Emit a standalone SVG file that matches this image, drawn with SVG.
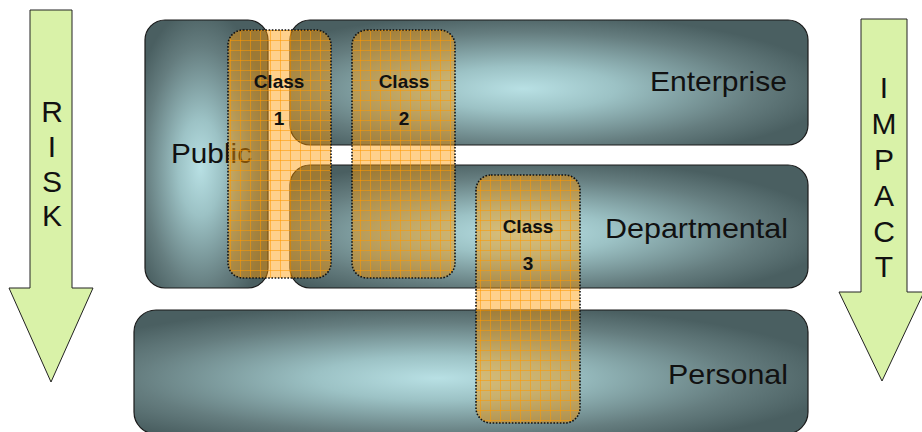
<svg xmlns="http://www.w3.org/2000/svg" width="922" height="432" viewBox="0 0 922 432">
<defs>
<radialGradient id="slate" cx="0.45" cy="0.55" r="0.6">
<stop offset="0" stop-color="#b8e0e4"/>
<stop offset="0.3" stop-color="#9cc2c5"/>
<stop offset="0.75" stop-color="#657d7f"/>
<stop offset="1" stop-color="#4a5f61"/>
</radialGradient>
<pattern id="grid" patternUnits="userSpaceOnUse" x="0" y="0" width="10" height="10">
<rect width="10" height="10" fill="#ff9a00" fill-opacity="0.45"/>
<path d="M0.5 0V10M0 0.5H10" stroke="#ff9900" stroke-width="1" stroke-opacity="0.55"/>
</pattern>
</defs>
<style>
.box{fill:url(#slate);stroke:#1a1a1a;stroke-width:1.2}
.cls{fill:url(#grid);stroke:#111;stroke-width:1.6;stroke-dasharray:1.6 1.6}
.lbl{font-family:"Liberation Sans",Arial,sans-serif;font-size:28px;fill:#111}
.ct{font-family:"Liberation Sans",Arial,sans-serif;font-size:19px;font-weight:bold;fill:#111;text-anchor:middle}
.arr{fill:#d9f2a8;stroke:#222;stroke-width:1}
.al{font-family:"Liberation Sans",Arial,sans-serif;font-size:30px;fill:#111;text-anchor:middle}
</style>
<g id="risk">
<polygon class="arr" points="30,10 72,10 72,288 93,288 51,382 9,288 30,288"/>
<text class="al" x="52" y="122">R</text>
<text class="al" x="52" y="157">I</text>
<text class="al" x="52" y="192">S</text>
<text class="al" x="52" y="226">K</text>
</g>
<g id="impact">
<polygon class="arr" points="861,19 907,19 907,292 924,292 882,381 839,292 861,292"/>
<text class="al" x="884" y="98">I</text>
<text class="al" x="884" y="134">M</text>
<text class="al" x="884" y="170">P</text>
<text class="al" x="884" y="206">A</text>
<text class="al" x="884" y="242">C</text>
<text class="al" x="884" y="277">T</text>
</g>
<g id="public">
<rect class="box" x="145" y="20" width="123" height="268" rx="20"/>
<text class="lbl" x="171" y="163" textLength="81" lengthAdjust="spacingAndGlyphs">Public</text>
</g>
<g id="enterprise">
<rect class="box" x="290" y="20" width="518" height="125" rx="20"/>
<text class="lbl" x="650" y="91" textLength="137" lengthAdjust="spacingAndGlyphs">Enterprise</text>
</g>
<g id="departmental">
<rect class="box" x="290" y="165" width="518" height="123" rx="20"/>
<text class="lbl" x="605" y="238" textLength="183" lengthAdjust="spacingAndGlyphs">Departmental</text>
</g>
<g id="personal">
<rect class="box" x="134" y="310" width="674" height="124" rx="22"/>
<text class="lbl" x="668" y="384" textLength="120" lengthAdjust="spacingAndGlyphs">Personal</text>
</g>
<g id="class1">
<rect class="cls" x="228" y="30" width="103" height="248" rx="15"/>
<text class="ct" x="279" y="88">Class</text>
<text class="ct" x="279" y="125">1</text>
</g>
<g id="class2">
<rect class="cls" x="352" y="30" width="103" height="248" rx="15"/>
<text class="ct" x="404" y="88">Class</text>
<text class="ct" x="404" y="125">2</text>
</g>
<g id="class3">
<rect class="cls" x="476" y="175" width="104" height="248" rx="15"/>
<text class="ct" x="528" y="233">Class</text>
<text class="ct" x="528" y="270">3</text>
</g>
<g id="connectors"/>
</svg>
